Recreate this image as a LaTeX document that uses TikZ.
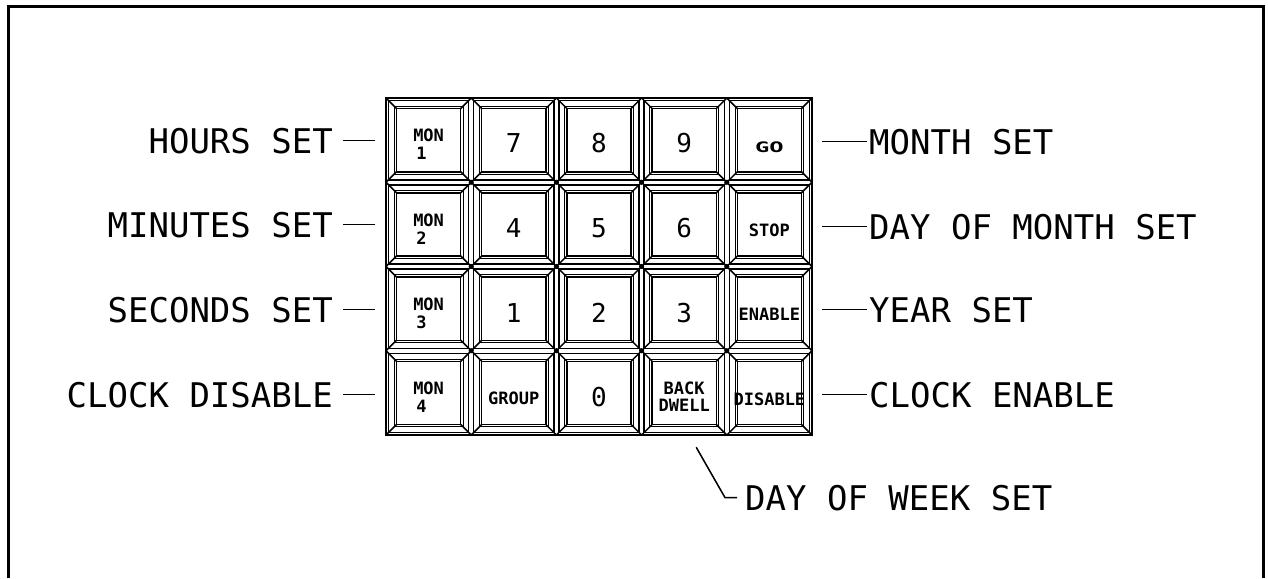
\documentclass[tikz,border=0pt]{standalone}
\usepackage{fontspec}
\newfontfamily\monofam{DejaVu Sans Mono}
\newcommand\lblfont{\monofam\fontsize{34}{38}\selectfont}
\newcommand\keydigitfont{\monofam\fontsize{26}{28}\selectfont}
\newcommand\keysmallfont{\monofam\bfseries\fontsize{17}{18}\selectfont}
\tikzset{
  frameline/.style={line width=3pt, line join=miter},
  padline/.style={line width=1.8pt},
  keycell/.style={draw, line width=1.5pt, minimum width=80.2pt, minimum height=79.25pt, inner sep=0pt},
  bevel/.style={line width=1.5pt},
  ridge/.style={line width=0.8pt},
  lbl/.style={font=\lblfont, inner sep=0pt},
  keybig/.style={font=\keydigitfont, inner sep=0pt},
  keysmall/.style={font=\keysmallfont, inner sep=0pt},
  leader/.style={line width=1.5pt}
}
\begin{document}
\begin{tikzpicture}[x=1pt,y=-1pt]
\useasboundingbox (0,0) rectangle (1268,578);
% frame
\draw[frameline] (8,578) -- (8,7) -- (1263,7) -- (1263,578);
% keypad outline
\draw[padline] (386,98) rectangle (812,435);
% keys
\foreach \c in {0,...,4}{
  \foreach \r in {0,...,3}{
    \pgfmathsetmacro{\xl}{386+85.2*\c}
    \pgfmathsetmacro{\xr}{\xl+85.2}
    \pgfmathsetmacro{\yt}{98+84.25*\r}
    \pgfmathsetmacro{\yb}{\yt+84.25}
    \node[keycell] (k\c\r) at ({(\xl+\xr)/2},{(\yt+\yb)/2}) {};
    \draw[ridge] (\xl+8.2,\yt+8.2) rectangle (\xr-8.2,\yb-8.2);
    \draw[bevel] (\xl+10.5,\yt+10.5) rectangle (\xr-10.5,\yb-10.5);
    \draw[bevel] (\xl,\yt) -- (\xl+10.5,\yt+10.5);
    \draw[bevel] (\xr,\yt) -- (\xr-10.5,\yt+10.5);
    \draw[bevel] (\xl,\yb) -- (\xl+10.5,\yb-10.5);
    \draw[bevel] (\xr,\yb) -- (\xr-10.5,\yb-10.5);
  }
}
% junction dots
\foreach \c in {1,...,4}{
  \foreach \r in {1,...,3}{
    \fill ({386+85.2*\c},{98+84.25*\r}) circle (2.6pt);
  }
}
% key texts
\foreach \r/\d in {0/1,1/2,2/3,3/4}{
  \node[keysmall] (mon\d) at ([yshift=4.5pt]k0\r.center) {MON};
  \node[keysmall] (mond\d) at ([xshift=-7pt,yshift=-13.5pt]k0\r.center) {\d};
}
\node[keybig] (t10) at ([yshift=-3pt]k10.center) {7};
\node[keybig] (t20) at ([yshift=-3pt]k20.center) {8};
\node[keybig] (t30) at ([yshift=-3pt]k30.center) {9};
\node[keysmall] (t40) at ([yshift=-7pt]k40.center) {\scalebox{1.4}[0.85]{GO}};
\node[keybig] (t11) at ([yshift=-4pt]k11.center) {4};
\node[keybig] (t21) at ([yshift=-4pt]k21.center) {5};
\node[keybig] (t31) at ([yshift=-4pt]k31.center) {6};
\node[keysmall] (t41) at ([yshift=-6pt]k41.center) {STOP};
\node[keybig] (t12) at ([yshift=-4pt]k12.center) {1};
\node[keybig] (t22) at ([yshift=-4pt]k22.center) {2};
\node[keybig] (t32) at ([yshift=-4pt]k32.center) {3};
\node[keysmall] (t42) at ([yshift=-5.5pt]k42.center) {ENABLE};
\node[keysmall] (t13) at ([yshift=-5pt]k13.center) {GROUP};
\node[keybig] (t23) at ([yshift=-4pt]k23.center) {0};
\node[keysmall] (t33a) at ([yshift=4.5pt]k33.center) {BACK};
\node[keysmall] (t33b) at ([yshift=-12.5pt]k33.center) {DWELL};
\node[keysmall] (t43) at ([yshift=-6pt]k43.center) {DISABLE};
% left labels
\node[lbl, anchor=base east] (hours) at (333,153) {HOURS SET};
\node[lbl, anchor=base east] (minutes) at (333,237) {MINUTES SET};
\node[lbl, anchor=base east] (seconds) at (333,322) {SECONDS SET};
\node[lbl, anchor=base east] (clkdis) at (333,407) {CLOCK DISABLE};
% right labels
\node[lbl, anchor=base west] (month) at (869,154) {MONTH SET};
\node[lbl, anchor=base west] (daymonth) at (869,239) {DAY OF MONTH SET};
\node[lbl, anchor=base west] (year) at (869,322) {YEAR SET};
\node[lbl, anchor=base west] (clken) at (869,407) {CLOCK ENABLE};
% bottom label
\node[lbl, anchor=base west] (week) at (745,510) {DAY OF WEEK SET};
% leaders left
\draw[leader] ([xshift=10pt]hours.east) -- ([xshift=-13pt]hours.east -| k00.west);
\draw[leader] ([xshift=10pt]minutes.east) -- ([xshift=-13pt]minutes.east -| k01.west);
\draw[leader] ([xshift=10pt]seconds.east) -- ([xshift=-13pt]seconds.east -| k02.west);
\draw[leader] ([xshift=10pt]clkdis.east) -- ([xshift=-13pt]clkdis.east -| k03.west);
% leaders right
\draw[leader] ([xshift=-2pt]month.west) -- ([xshift=12pt]month.west -| k40.east);
\draw[leader] ([xshift=-2pt]daymonth.west) -- ([xshift=12pt]daymonth.west -| k41.east);
\draw[leader] ([xshift=-2pt]year.west) -- ([xshift=12pt]year.west -| k42.east);
\draw[leader] ([xshift=-2pt]clken.west) -- ([xshift=12pt]clken.west -| k43.east);
% leader to day of week
\coordinate (wk) at ([xshift=12pt,yshift=-14pt]k33.south);
\draw[leader] (wk) -- ([xshift=-20pt]week.west) -- ([xshift=-8pt]week.west);
\end{tikzpicture}
\end{document}
